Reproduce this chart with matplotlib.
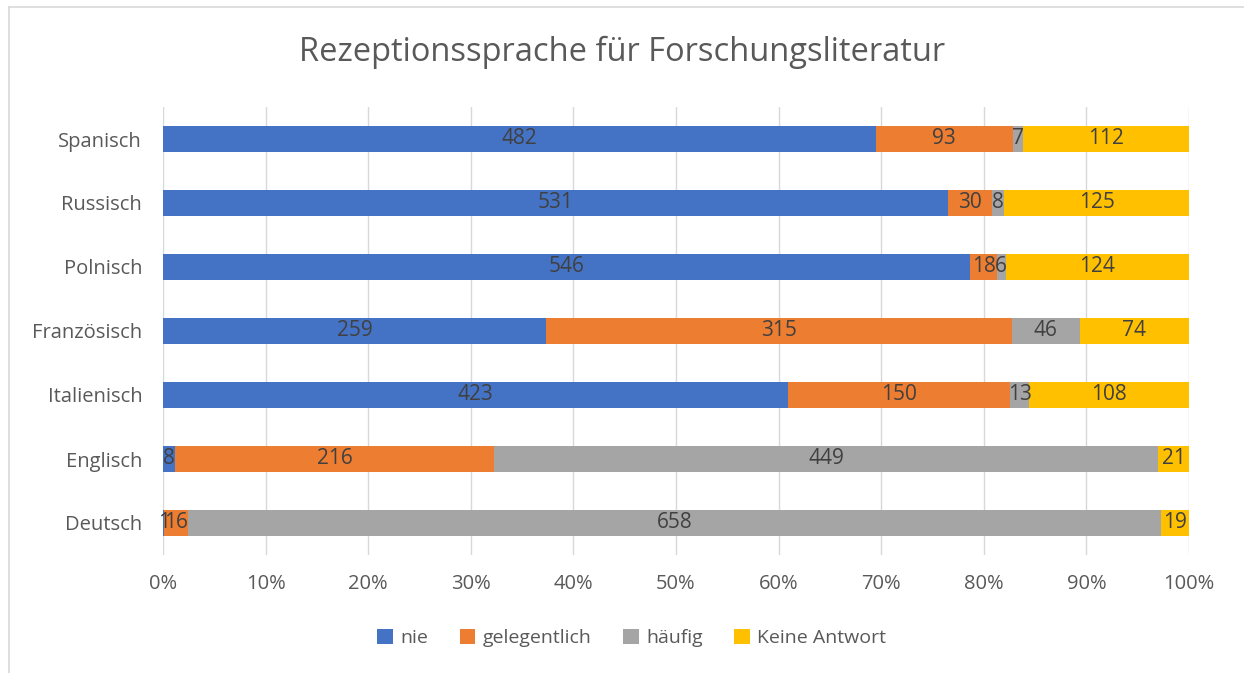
import numpy as np
import matplotlib
matplotlib.use('Agg')
import matplotlib.pyplot as plt
from matplotlib.ticker import PercentFormatter

plt.rcParams['font.family'] = ['Open Sans', 'DejaVu Sans']

# data (top to bottom as shown)
sprachen = ['Spanisch', 'Russisch', 'Polnisch', 'Französisch', 'Italienisch', 'Englisch', 'Deutsch']
nie = [482, 531, 546, 259, 423, 8, 1]
gelegentlich = [93, 30, 18, 315, 150, 216, 16]
haeufig = [7, 8, 6, 46, 13, 449, 658]
keine = [112, 125, 124, 74, 108, 21, 19]
reihen = ['nie', 'gelegentlich', 'häufig', 'Keine Antwort']
farben = ['#4472C4', '#ED7D31', '#A5A5A5', '#FFC000']

werte = np.array([nie, gelegentlich, haeufig, keine], dtype=float)
summe = werte.sum(axis=0)
anteil = werte / summe

fig = plt.figure(figsize=(12.44, 6.73), dpi=100)
ax = fig.add_axes([163/1244, 1 - 555/673, 1026/1244, 448/673])

y = np.arange(len(sprachen))[::-1]
links = np.zeros(len(sprachen))
for i in range(4):
    bars = ax.barh(y, anteil[i], left=links, height=0.4, color=farben[i],
                   label=reihen[i], zorder=2)
    ax.bar_label(bars, labels=[str(int(v)) for v in werte[i]], label_type='center',
                 color='#404040', fontsize=15)
    links += anteil[i]

ax.set_xlim(0, 1)
ax.set_ylim(-0.5, len(sprachen) - 0.5)
ax.set_yticks(y)
ax.set_yticklabels(sprachen)
ax.set_xticks(np.linspace(0, 1, 11))
ax.xaxis.set_major_formatter(PercentFormatter(1.0, decimals=0))
ax.grid(axis='x', color='#D9D9D9', linewidth=1, zorder=0)
for s in ax.spines.values():
    s.set_visible(False)
ax.tick_params(length=0, labelsize=14.5, colors='#595959')
ax.tick_params(axis='y', pad=15)
ax.tick_params(axis='x', pad=14)

fig.text(0.5, 1 - 52/673, 'Rezeptionssprache für Forschungsliteratur', ha='center', va='center',
         fontsize=23.5, color='#595959')

leg = fig.legend(loc='center', bbox_to_anchor=(0.508, 1 - 638/673), ncol=4, frameon=False,
                 fontsize=14, handlelength=0.8, handleheight=0.8, handletextpad=0.4,
                 columnspacing=1.6)
for t in leg.get_texts():
    t.set_color('#595959')

# chart border (top and left visible)
fig.add_artist(plt.Line2D([9/1244, 1], [1 - 7/673, 1 - 7/673], color='#D9D9D9', lw=1.2))
fig.add_artist(plt.Line2D([9/1244, 9/1244], [0, 1 - 7/673], color='#D9D9D9', lw=1.2))

fig.savefig('out.png', dpi=100)
